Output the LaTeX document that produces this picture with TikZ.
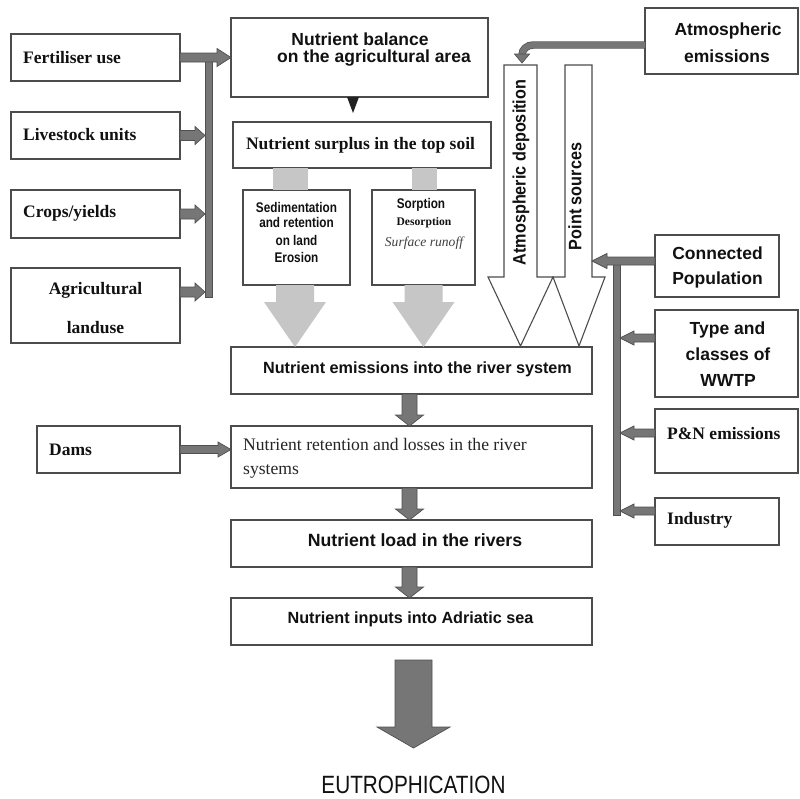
\documentclass[tikz,border=0pt]{standalone}
\usepackage{fontspec}
\setmainfont{Liberation Serif}
\newfontfamily\arialf{Liberation Sans}
\usetikzlibrary{calc}

\definecolor{agray}{HTML}{767676}
\definecolor{adark}{HTML}{505050}
\definecolor{lgray}{HTML}{C6C6C6}
\definecolor{boxline}{HTML}{4C4C4C}
\definecolor{ink}{HTML}{111111}
\definecolor{tridark}{HTML}{222222}

\newcommand\fs[1]{\fontsize{#1}{#1}\selectfont}

% framed box: name, left x, top y, width, height
\newcommand\cell[5]{\node[box, anchor=north west, minimum width=#4pt, minimum height=#5pt] (#1) at (#2,#3) {};}

% block arrows: [style]{from}{to}{half stem}{half head}{head length}
\newcommand\arrR[6][garrow]{\filldraw[#1] let \p1=#2, \p2=#3 in
  (\x1,\y1+#4) -- (\x2-#6,\y1+#4) -- (\x2-#6,\y1+#5) -- (\x2,\y1) --
  (\x2-#6,\y1-#5) -- (\x2-#6,\y1-#4) -- (\x1,\y1-#4) -- cycle;}
\newcommand\arrL[6][garrow]{\filldraw[#1] let \p1=#2, \p2=#3 in
  (\x1,\y1+#4) -- (\x2+#6,\y1+#4) -- (\x2+#6,\y1+#5) -- (\x2,\y1) --
  (\x2+#6,\y1-#5) -- (\x2+#6,\y1-#4) -- (\x1,\y1-#4) -- cycle;}
\newcommand\arrD[6][garrow]{\filldraw[#1] let \p1=#2, \p2=#3 in
  (\x1-#4,\y1) -- (\x1-#4,\y2+#6) -- (\x1-#5,\y2+#6) -- (\x1,\y2) --
  (\x1+#5,\y2+#6) -- (\x1+#4,\y2+#6) -- (\x1+#4,\y1) -- cycle;}

\tikzset{
  box/.style={draw=boxline, line width=1.3pt, fill=white, inner sep=0pt, outer sep=0pt},
  garrow/.style={fill=agray, draw=adark, line width=0.7pt, line join=miter},
  larrow/.style={fill=lgray, draw=none},
  warrow/.style={fill=white, draw=boxline, line width=1.1pt, line join=miter},
  band/.style={draw=agray, line width=6pt, preaction={draw=adark, line width=7.4pt}},
  tx/.style={inner sep=0pt, anchor=base, text=ink},
  txl/.style={tx, anchor=base west},
  tb/.style={font=\fs{17.5}\bfseries},
  sb/.style={font=\fs{17.5}\arialf\bfseries},
  sm/.style={font=\fs{14}\arialf\bfseries},
}

\begin{document}
\begin{tikzpicture}[x=1pt, y=-1pt]
\useasboundingbox (0,0) rectangle (800,798);
\fill[white] (0,0) rectangle (800,798);

% ---- boxes ----
\cell{fert}{11}{34}{169}{47}
\cell{live}{11}{112}{169}{47}
\cell{crops}{11}{190}{169}{48}
\cell{agri}{11}{268}{169}{75}
\cell{bal}{231}{18}{257}{79}
\cell{surp}{233}{122}{258}{46}
\cell{sed}{243}{190}{107}{95}
\cell{sorp}{372}{190}{103}{95}
\cell{emis}{231}{347}{361}{47}
\cell{ret}{231}{426}{361}{62}
\cell{dams}{37}{426}{143}{47}
\cell{load}{231}{520}{361}{47}
\cell{inp}{231}{598}{361}{47}
\cell{atmem}{645}{8}{153}{66}
\cell{conn}{655}{235}{124}{62}
\cell{wwtp}{655}{310}{143}{87}
\cell{pn}{655}{409}{143}{64}
\cell{ind}{655}{498}{124}{47}

% ---- helper points ----
\coordinate (lbarT) at (205,57);
\coordinate (lbarB) at (212,297);
\coordinate (agriout) at ($(agri.north east)+(0,24)$);
\coordinate (rbarT) at (613,257);
\coordinate (rbarB) at (620,515);
\coordinate (psR) at (592,261);
\coordinate (cpout) at (655,261);
\coordinate (wwout) at (655,338);
\coordinate (pnout) at (655,433);
\coordinate (indout) at (655,511);
\coordinate (aeout) at (645,45);
\coordinate (eutroTop) at (413.5,660);
\coordinate (eutroTip) at (413.5,748);

% ---- inputs to the agricultural balance ----
\filldraw[garrow] (lbarT) rectangle (lbarB);
\arrR{(fert.east)}{(bal.west |- fert.east)}{4.5pt}{9pt}{14pt}
\arrR{(live.east)}{(lbarT |- live.east)}{5pt}{9pt}{10pt}
\arrR{(crops.east)}{(lbarT |- crops.east)}{5pt}{9pt}{10pt}
\arrR{(agriout)}{(lbarT |- agriout)}{5pt}{9pt}{10pt}

% balance -> surplus
\fill[tridark] ($(bal.south)+(-12.5,0)$) -- ($(bal.south)+(-0.5,0)$) -- ($(bal.south)+(-6.5,16)$) -- cycle;

% surplus -> pathways -> emissions (light arrows)
\fill[larrow] (sed.north -| 273,0) rectangle (surp.south -| 308,0);
\fill[larrow] (sorp.north -| 412,0) rectangle (surp.south -| 437,0);
\arrD[larrow]{(sed.south -| 295,0)}{(emis.north -| 295,0)}{19pt}{31pt}{45pt}
\arrD[larrow]{(sorp.south -| 423.5,0)}{(emis.north -| 423.5,0)}{19pt}{31pt}{45pt}

% atmospheric deposition and point sources (open block arrows)
\filldraw[warrow] (504,65) -- (537,65) -- (537,277) -- (553,277) -- (520.5,346)
  -- (488,277) -- (504,277) -- cycle;
\filldraw[warrow] (565,65) -- (592,65) -- (592,277) -- (605,277) -- (579,346)
  -- (553,277) -- (565,277) -- cycle;

% atmospheric emissions -> deposition
\draw[band] (aeout) -- (533,45) to[out=180,in=90] (522,55);
\filldraw[garrow] (514.5,54) -- (529.5,54) -- (522,63) -- cycle;

% point source inputs
\filldraw[garrow] (rbarT) rectangle (rbarB);
\arrL{(cpout)}{(cpout -| psR)}{4pt}{7.5pt}{15pt}
\arrL{(wwout)}{(wwout -| rbarB)}{4pt}{7pt}{14pt}
\arrL{(pnout)}{(pnout -| rbarB)}{4pt}{7pt}{14pt}
\arrL{(indout)}{(indout -| rbarB)}{4pt}{7pt}{14pt}

% river chain
\arrD{(emis.south -| 409.5,0)}{(ret.north -| 409.5,0)}{7.5pt}{14pt}{11pt}
\arrD{(ret.south -| 409.5,0)}{(load.north -| 409.5,0)}{7.5pt}{14pt}{11pt}
\arrD{(load.south -| 409.5,0)}{(inp.north -| 409.5,0)}{7.5pt}{14pt}{11pt}
\arrR{(dams.east)}{(ret.west |- dams.east)}{4pt}{7.5pt}{13pt}
\arrD{(eutroTop)}{(eutroTip)}{18.5pt}{36.5pt}{21pt}

% ---- texts ----
\node[txl,tb] (fert-t) at (23,63) {Fertiliser use};
\node[txl,tb] (live-t) at (23,140) {Livestock units};
\node[txl,tb] (crops-t) at (23,217.5) {Crops/yields};
\node[tx,tb] (agri-t1) at (95.5,294) {Agricultural};
\node[tx,tb] (agri-t2) at (95.5,333) {landuse};

\node[tx,sb] (bal-t1) at (360,45.5) {Nutrient balance};
\node[tx,sb] (bal-t2) at (374,62.5) {on the agricultural area};
\node[tx,tb] (surp-t) at (360.5,149) {Nutrient surplus in the top soil};

\node[tx,sm] (sed-t1) at (296.5,212) {\scalebox{0.84}[1]{Sedimentation}};
\node[tx,sm] (sed-t2) at (296.5,227) {\scalebox{0.84}[1]{and retention}};
\node[tx,sm] (sed-t3) at (296.5,245) {\scalebox{0.84}[1]{on land}};
\node[tx,sm] (sed-t4) at (296.5,262) {\scalebox{0.84}[1]{Erosion}};

\node[tx,sm] (sorp-t1) at (421,208.5) {\scalebox{0.84}[1]{Sorption}};
\node[tx,font=\fs{11.6}\bfseries] (sorp-t2) at (424,225.7) {Desorption};
\node[tx,font=\fs{13.6}\itshape,text=black!75] (sorp-t3) at (424,246) {Surface runoff};

\node[tx,font=\fs{18}\arialf\bfseries,anchor=center,rotate=90] (adep) at (521,172.5)
  {\scalebox{0.9}[1]{Atmospheric deposition}};
\node[tx,font=\fs{18}\arialf\bfseries,anchor=center,rotate=90] (psrc) at (575,196.5)
  {\scalebox{0.9}[1]{Point sources}};

\node[tx,sb] (atmem-t1) at (728,35.6) {Atmospheric};
\node[tx,sb] (atmem-t2) at (727,62) {emissions};
\node[tx,sb] (conn-t1) at (717.5,259.6) {Connected};
\node[tx,sb] (conn-t2) at (717.5,284.6) {Population};
\node[tx,sb] (wwtp-t1) at (727.5,334.6) {Type and};
\node[tx,sb] (wwtp-t2) at (728,360) {classes of};
\node[tx,sb] (wwtp-t3) at (728,386) {WWTP};
\node[txl,tb] (pn-t) at (667,439) {P\&N emissions};
\node[txl,tb] (ind-t) at (667,524) {Industry};

\node[tx,font=\fs{16.2}\arialf\bfseries] (emis-t) at (417.5,373.5) {Nutrient emissions into the river system};
\node[txl,font=\fs{17.6},text=black!85] (ret-t1) at (243,450) {Nutrient retention and losses in the river};
\node[txl,font=\fs{17.6},text=black!85] (ret-t2) at (243,474) {systems};
\node[txl,tb] (dams-t) at (49,455) {Dams};
\node[tx,font=\fs{17.7}\arialf\bfseries] (load-t) at (415,546) {Nutrient load in the rivers};
\node[tx,font=\fs{16.2}\arialf\bfseries] (inp-t) at (410.5,623.6) {Nutrient inputs into Adriatic sea};

\node[tx,font=\fs{25}\arialf] (eutro) at (413.5,793) {\scalebox{0.83}[1]{EUTROPHICATION}};
\end{tikzpicture}
\end{document}
